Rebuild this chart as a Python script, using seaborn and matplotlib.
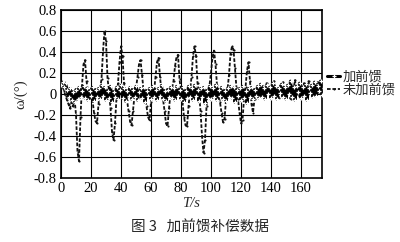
import numpy as np
import pandas as pd
import matplotlib
matplotlib.use("Agg")
import matplotlib.pyplot as plt
import seaborn as sns

# ---- data ----
time_s = list(range(0, 176))

with_ff = [
    0.08, 0.11, 0.06, 0.10, 0.04, -0.03, 0.05, -0.06, 0.02, -0.08,
    0.04, -0.05, 0.06, -0.03, 0.03, 0.07, -0.04, 0.05, -0.06, 0.03,
    -0.02, 0.06, -0.07, 0.04, -0.03, 0.05, -0.05, 0.08, -0.02, 0.06,
    -0.06, 0.03, -0.04, 0.07, -0.08, 0.02, -0.03, 0.06, -0.05, 0.04,
    0.08, -0.04, 0.05, -0.07, 0.03, -0.02, 0.06, -0.05, 0.04, -0.03,
    0.07, -0.06, 0.02, 0.05, -0.04, 0.06, -0.08, 0.03, -0.02, 0.05,
    -0.05, 0.07, -0.03, 0.04, -0.06, 0.05, -0.02, 0.08, -0.05, 0.03,
    -0.07, 0.04, -0.03, 0.06, -0.04, 0.05, -0.06, 0.07, -0.02, 0.04,
    -0.05, 0.06, -0.08, 0.03, -0.04, 0.07, -0.03, 0.05, -0.06, 0.08,
    -0.02, 0.04, -0.07, 0.05, -0.03, 0.06, -0.09, 0.03, -0.04, 0.07,
    -0.05, 0.05, -0.03, 0.08, -0.06, 0.04, -0.02, 0.06, -0.05, 0.03,
    -0.07, 0.05, -0.03, 0.07, -0.04, 0.06, -0.08, 0.04, -0.02, 0.05,
    -0.06, 0.07, -0.04, 0.03, -0.09, 0.05, -0.03, 0.06, -0.05, 0.04,
    -0.02, 0.07, -0.04, 0.09, -0.03, 0.05, -0.05, 0.08, 0.00, 0.06,
    -0.04, 0.10, -0.02, 0.07, -0.05, 0.05, 0.01, 0.09, -0.03, 0.06,
    -0.05, 0.08, 0.00, 0.12, -0.03, 0.06, -0.06, 0.07, 0.02, 0.10,
    -0.04, 0.06, -0.02, 0.09, -0.06, 0.05, 0.01, 0.08, -0.03, 0.11,
    -0.02, 0.07, 0.03, 0.12, -0.01, 0.05,
]

without_ff = [
    0.05, 0.08, 0.03, -0.02, -0.06, -0.10, -0.14, -0.08, -0.12, -0.04,
    -0.20, -0.55, -0.64, -0.22, 0.08, 0.28, 0.32, 0.12, 0.02, -0.04,
    0.05, -0.06, -0.18, -0.26, -0.28, -0.10, 0.04, 0.14, 0.40, 0.60,
    0.50, 0.15, 0.02, -0.14, -0.36, -0.44, -0.28, -0.04, 0.10, 0.30,
    0.45, 0.36, 0.10, 0.00, -0.06, -0.16, -0.26, -0.30, -0.16, -0.02,
    0.05, 0.16, 0.28, 0.32, 0.18, 0.04, -0.03, -0.12, -0.22, -0.25,
    -0.08, 0.04, 0.02, 0.16, 0.30, 0.34, 0.16, 0.02, -0.05, -0.16,
    -0.28, -0.31, -0.14, 0.00, 0.05, 0.12, 0.26, 0.35, 0.37, 0.14,
    0.02, -0.08, -0.22, -0.30, -0.31, -0.12, 0.02, 0.16, 0.36, 0.45,
    0.36, 0.10, 0.00, -0.16, -0.40, -0.56, -0.44, -0.12, 0.02, 0.08,
    0.20, 0.35, 0.41, 0.28, 0.08, -0.02, -0.08, -0.18, -0.27, -0.24,
    -0.06, 0.04, 0.18, 0.38, 0.45, 0.42, 0.24, 0.05, -0.05, -0.18,
    -0.28, -0.25, -0.05, 0.06, 0.22, 0.30, 0.12, -0.10, -0.18, -0.05,
    0.04, -0.03, 0.06, 0.01, 0.08, -0.02, 0.05, 0.10, 0.02, 0.07,
    -0.03, 0.06, 0.12, 0.01, 0.05, -0.04, 0.08, 0.03, 0.11, -0.02,
    0.06, 0.02, 0.09, -0.05, 0.07, 0.04, 0.13, 0.00, 0.06, -0.03,
    0.08, 0.03, 0.10, -0.04, 0.05, 0.12, 0.02, 0.07, -0.02, 0.09,
    0.04, 0.11, 0.01, 0.08, 0.03, 0.06,
]

series_names = ["加前馈", "未加前馈"]
x_ticks = [0, 20, 40, 60, 80, 100, 120, 140, 160]
y_ticks = [-0.8, -0.6, -0.4, -0.2, 0, 0.2, 0.4, 0.6, 0.8]
y_tick_labels = ["-0.8", "-0.6", "-0.4", "-0.2", "0", "0.2", "0.4", "0.6", "0.8"]
x_label = "T/s"
y_label = "ω/(°)"
caption = "图 3   加前馈补偿数据"

# ---- plotting ----
sns.set_theme(style="white")
plt.rcParams["font.family"] = ["Liberation Serif", "Noto Sans CJK SC", "DejaVu Sans"]
plt.rcParams["axes.unicode_minus"] = False

fig = plt.figure(figsize=(4.0, 2.42), dpi=100)
ax = fig.add_axes([0.1525, 0.2645, 0.6525, 0.6962])

df_a = pd.DataFrame({"t": time_s, "v": with_ff})
df_b = pd.DataFrame({"t": time_s, "v": without_ff})

sns.lineplot(data=df_b, x="t", y="v", ax=ax, color="#111111", lw=1.3,
             linestyle=(0, (2, 1)), marker=".", markersize=3,
             markeredgewidth=0, label=series_names[1], zorder=3)
sns.lineplot(data=df_a, x="t", y="v", ax=ax, color="black", lw=2.2,
             marker="+", markersize=3, markeredgewidth=0.9,
             label=series_names[0], zorder=4)

ax.set_xlim(0, 174)
ax.set_ylim(-0.8, 0.8)
ax.set_xticks(x_ticks)
ax.set_xticklabels([str(v) for v in x_ticks], fontsize=10.5)
ax.set_yticks(y_ticks)
ax.set_yticklabels(y_tick_labels, fontsize=10.5)
ax.grid(True, color="black", lw=0.8)
for s in ax.spines.values():
    s.set_color("black")
    s.set_linewidth(1.2)
ax.tick_params(axis="both", length=0, pad=3, colors="black")

ax.set_xlabel(x_label, fontsize=10.5, labelpad=1)
ax.xaxis.label.set_fontstyle("italic")
ax.set_ylabel(y_label, fontsize=10.5, labelpad=5)

handles, labels = ax.get_legend_handles_labels()
order = [labels.index(series_names[0]), labels.index(series_names[1])]
ax.legend([handles[i] for i in order], [labels[i] for i in order],
          loc="center left", bbox_to_anchor=(0.995, 0.56), frameon=False,
          fontsize=9.5, handlelength=1.0, handletextpad=0.15,
          labelspacing=0.0, borderaxespad=0.1)

fig.text(0.50, 0.058, caption, ha="center", va="center", fontsize=10.5,
         family=["Noto Sans CJK SC", "DejaVu Sans"])

fig.savefig("out.png", dpi=100)
